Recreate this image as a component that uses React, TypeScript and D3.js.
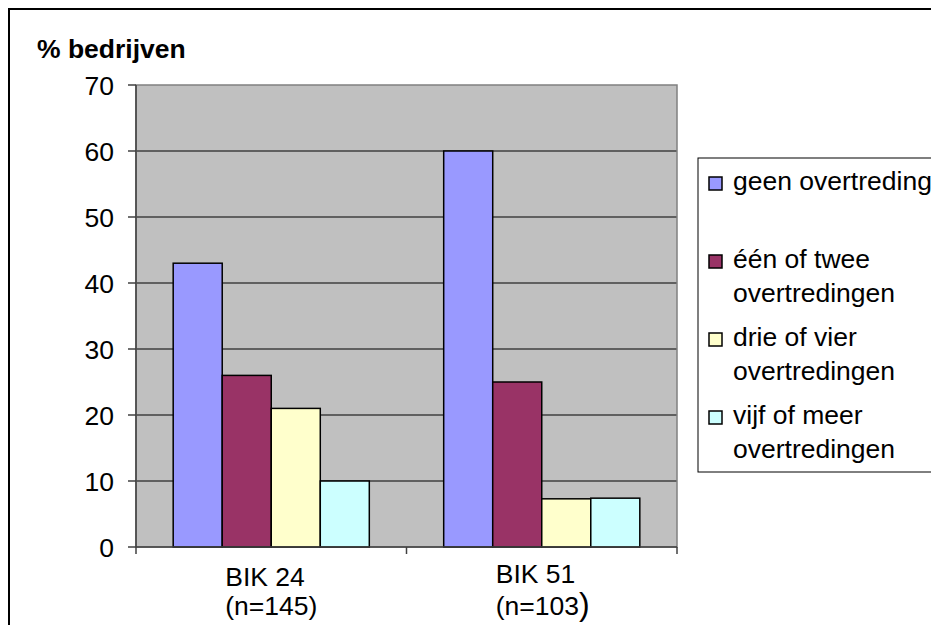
import React from "react";
import * as d3 from "d3";

const categories = ["BIK 24", "BIK 51"];
const categorySub = ["(n=145)", "(n=103)"];
const seriesNames = ["geen overtreding", "één of twee overtredingen", "drie of vier overtredingen", "vijf of meer overtredingen"];
const legendLines = [["geen overtreding"], ["één of twee", "overtredingen"], ["drie of vier", "overtredingen"], ["vijf of meer", "overtredingen"]];
const seriesColors = ["#9999FF", "#993366", "#FFFFCC", "#CCFFFF"];
const values = [
  [43, 26, 21, 10],
  [60, 25, 7.3, 7.4],
];
const yTicks = [0, 10, 20, 30, 40, 50, 60, 70];

const FONT = "'Liberation Sans', Arial, sans-serif";

export default function App() {
  const W = 931, H = 625;
  const left = 136, right = 677, top = 85, bottom = 547;
  const y = d3.scaleLinear().domain([0, 70]).range([bottom, top]);
  const x0 = d3.scaleBand<string>().domain(categories).range([left, right]).paddingInner(0.275).paddingOuter(0.1375);
  const x1 = d3.scaleBand<string>().domain(seriesNames).range([0, x0.bandwidth()]);
  const fs = 26.5;

  return (
    <svg width={W} height={H} style={{ position: "absolute", left: 0, top: 0 }} fontFamily={FONT}>
      <rect x={0} y={0} width={W} height={H} fill="#fff" />
      <rect x={9} y={9} width={960} height={660} fill="none" stroke="#000" strokeWidth={2} />
      <text x={37} y={58} fontSize={fs} fontWeight="bold" fill="#000">% bedrijven</text>
      {/* plot area */}
      <rect x={left} y={top} width={right - left} height={bottom - top} fill="#C0C0C0" />
      {yTicks.filter(t => t > 0 && t < 70).map(t => (
        <line key={"g" + t} x1={left} x2={right} y1={y(t)} y2={y(t)} stroke="#000" strokeWidth={1} />
      ))}
      <rect x={left} y={top} width={right - left} height={bottom - top} fill="none" stroke="#808080" strokeWidth={1.5} />
      {/* bars */}
      {categories.map((c, ci) => (
        <g key={c} transform={`translate(${x0(c)},0)`}>
          {seriesNames.map((s, si) => (
            <rect key={s} x={x1(s)} y={y(values[ci][si])} width={x1.bandwidth()} height={y(0) - y(values[ci][si])}
              fill={seriesColors[si]} stroke="#000" strokeWidth={1.5} />
          ))}
        </g>
      ))}
      {/* axes */}
      <line x1={left} x2={left} y1={top} y2={bottom} stroke="#404040" strokeWidth={1.5} />
      <line x1={left} x2={right} y1={bottom} y2={bottom} stroke="#404040" strokeWidth={1.5} />
      {yTicks.map(t => (
        <g key={"t" + t}>
          <line x1={128} x2={left} y1={y(t)} y2={y(t)} stroke="#404040" strokeWidth={1.5} />
          <text x={114} y={y(t)} dy="0.36em" textAnchor="end" fontSize={fs} fill="#000">{t}</text>
        </g>
      ))}
      {[left, (left + right) / 2, right].map((xx, i) => (
        <line key={"xt" + i} x1={xx} x2={xx} y1={bottom} y2={bottom + 7} stroke="#404040" strokeWidth={1.5} />
      ))}
      {categories.map((c, ci) => {
        const cx = (x0(c) as number) + x0.bandwidth() / 2;
        const lx = cx - 46;
        return (
          <g key={"cl" + c}>
            <text x={lx} y={ci === 0 ? 586 : 583} fontSize={fs} fill="#000">{c}</text>
            <text x={lx} y={615} fontSize={fs} fill="#000">
              {ci === 0 ? categorySub[ci] : (
                <>
                  {categorySub[ci].slice(0, -1)}
                  <tspan fontSize={32}>{categorySub[ci].slice(-1)}</tspan>
                </>
              )}
            </text>
          </g>
        );
      })}
      {/* legend */}
      <rect x={698} y={158} width={300} height={314} fill="#fff" stroke="#000" strokeWidth={1} />
      {legendLines.map((lines, i) => {
        const base = 190 + i * 78;
        return (
          <g key={"lg" + i}>
            <rect x={709} y={base - 13} width={13} height={13} fill={seriesColors[i]} stroke="#000" strokeWidth={1.5} />
            {lines.map((ln, li) => (
              <text key={li} x={733} y={base + li * 34} fontSize={fs} fill="#000">{ln}</text>
            ))}
          </g>
        );
      })}
    </svg>
  );
}
